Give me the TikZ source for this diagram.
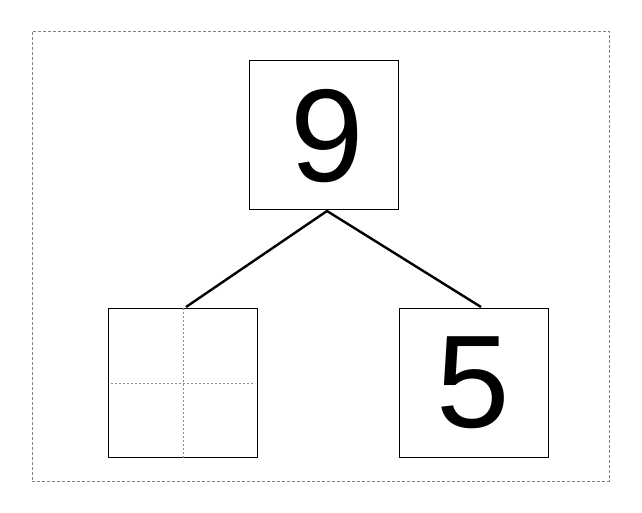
\documentclass[tikz,border=0pt]{standalone}
\usepackage{fontspec}
\setmainfont{Liberation Sans}
\begin{document}
\begin{tikzpicture}[x=1pt,y=-1pt,
  box/.style={draw=black,line width=0.9pt,minimum width=149pt,minimum height=149pt,inner sep=0pt,outer sep=0pt},
  digit/.style={inner sep=0pt,font=\fontsize{132}{132}\selectfont},
  link/.style={line width=2.4pt,black},
  guide/.style={draw=gray!90,line width=0.7pt,dash pattern=on 2pt off 2pt}]
\useasboundingbox (0,0) rectangle (642,513);
\node[guide,draw=gray,dash pattern=on 3pt off 2pt,minimum width=577pt,minimum height=450pt,inner sep=0pt] (frame) at (320.5,256) {};
\node[box] (top) at (323.5,134.5) {};
\node[box] (left) at (182.5,382.5) {};
\node[box] (right) at (473.5,382.5) {};
\node[digit,anchor=base] (nine) at (327,182) {9};
\node[digit,anchor=base] (five) at (473,427) {5};
\coordinate (apex) at (327,211);
\coordinate (lend) at (186,307);
\coordinate (rend) at (481,307);
\draw[link] (lend) -- (apex) -- (rend);
\coordinate (vt) at (183,308);
\coordinate (vb) at (183,458);
\coordinate (hl) at (111,383);
\coordinate (hr) at (255,383);
\draw[guide] (vt) -- (vb);
\draw[guide] (hl) -- (hr);
\end{tikzpicture}
\end{document}
